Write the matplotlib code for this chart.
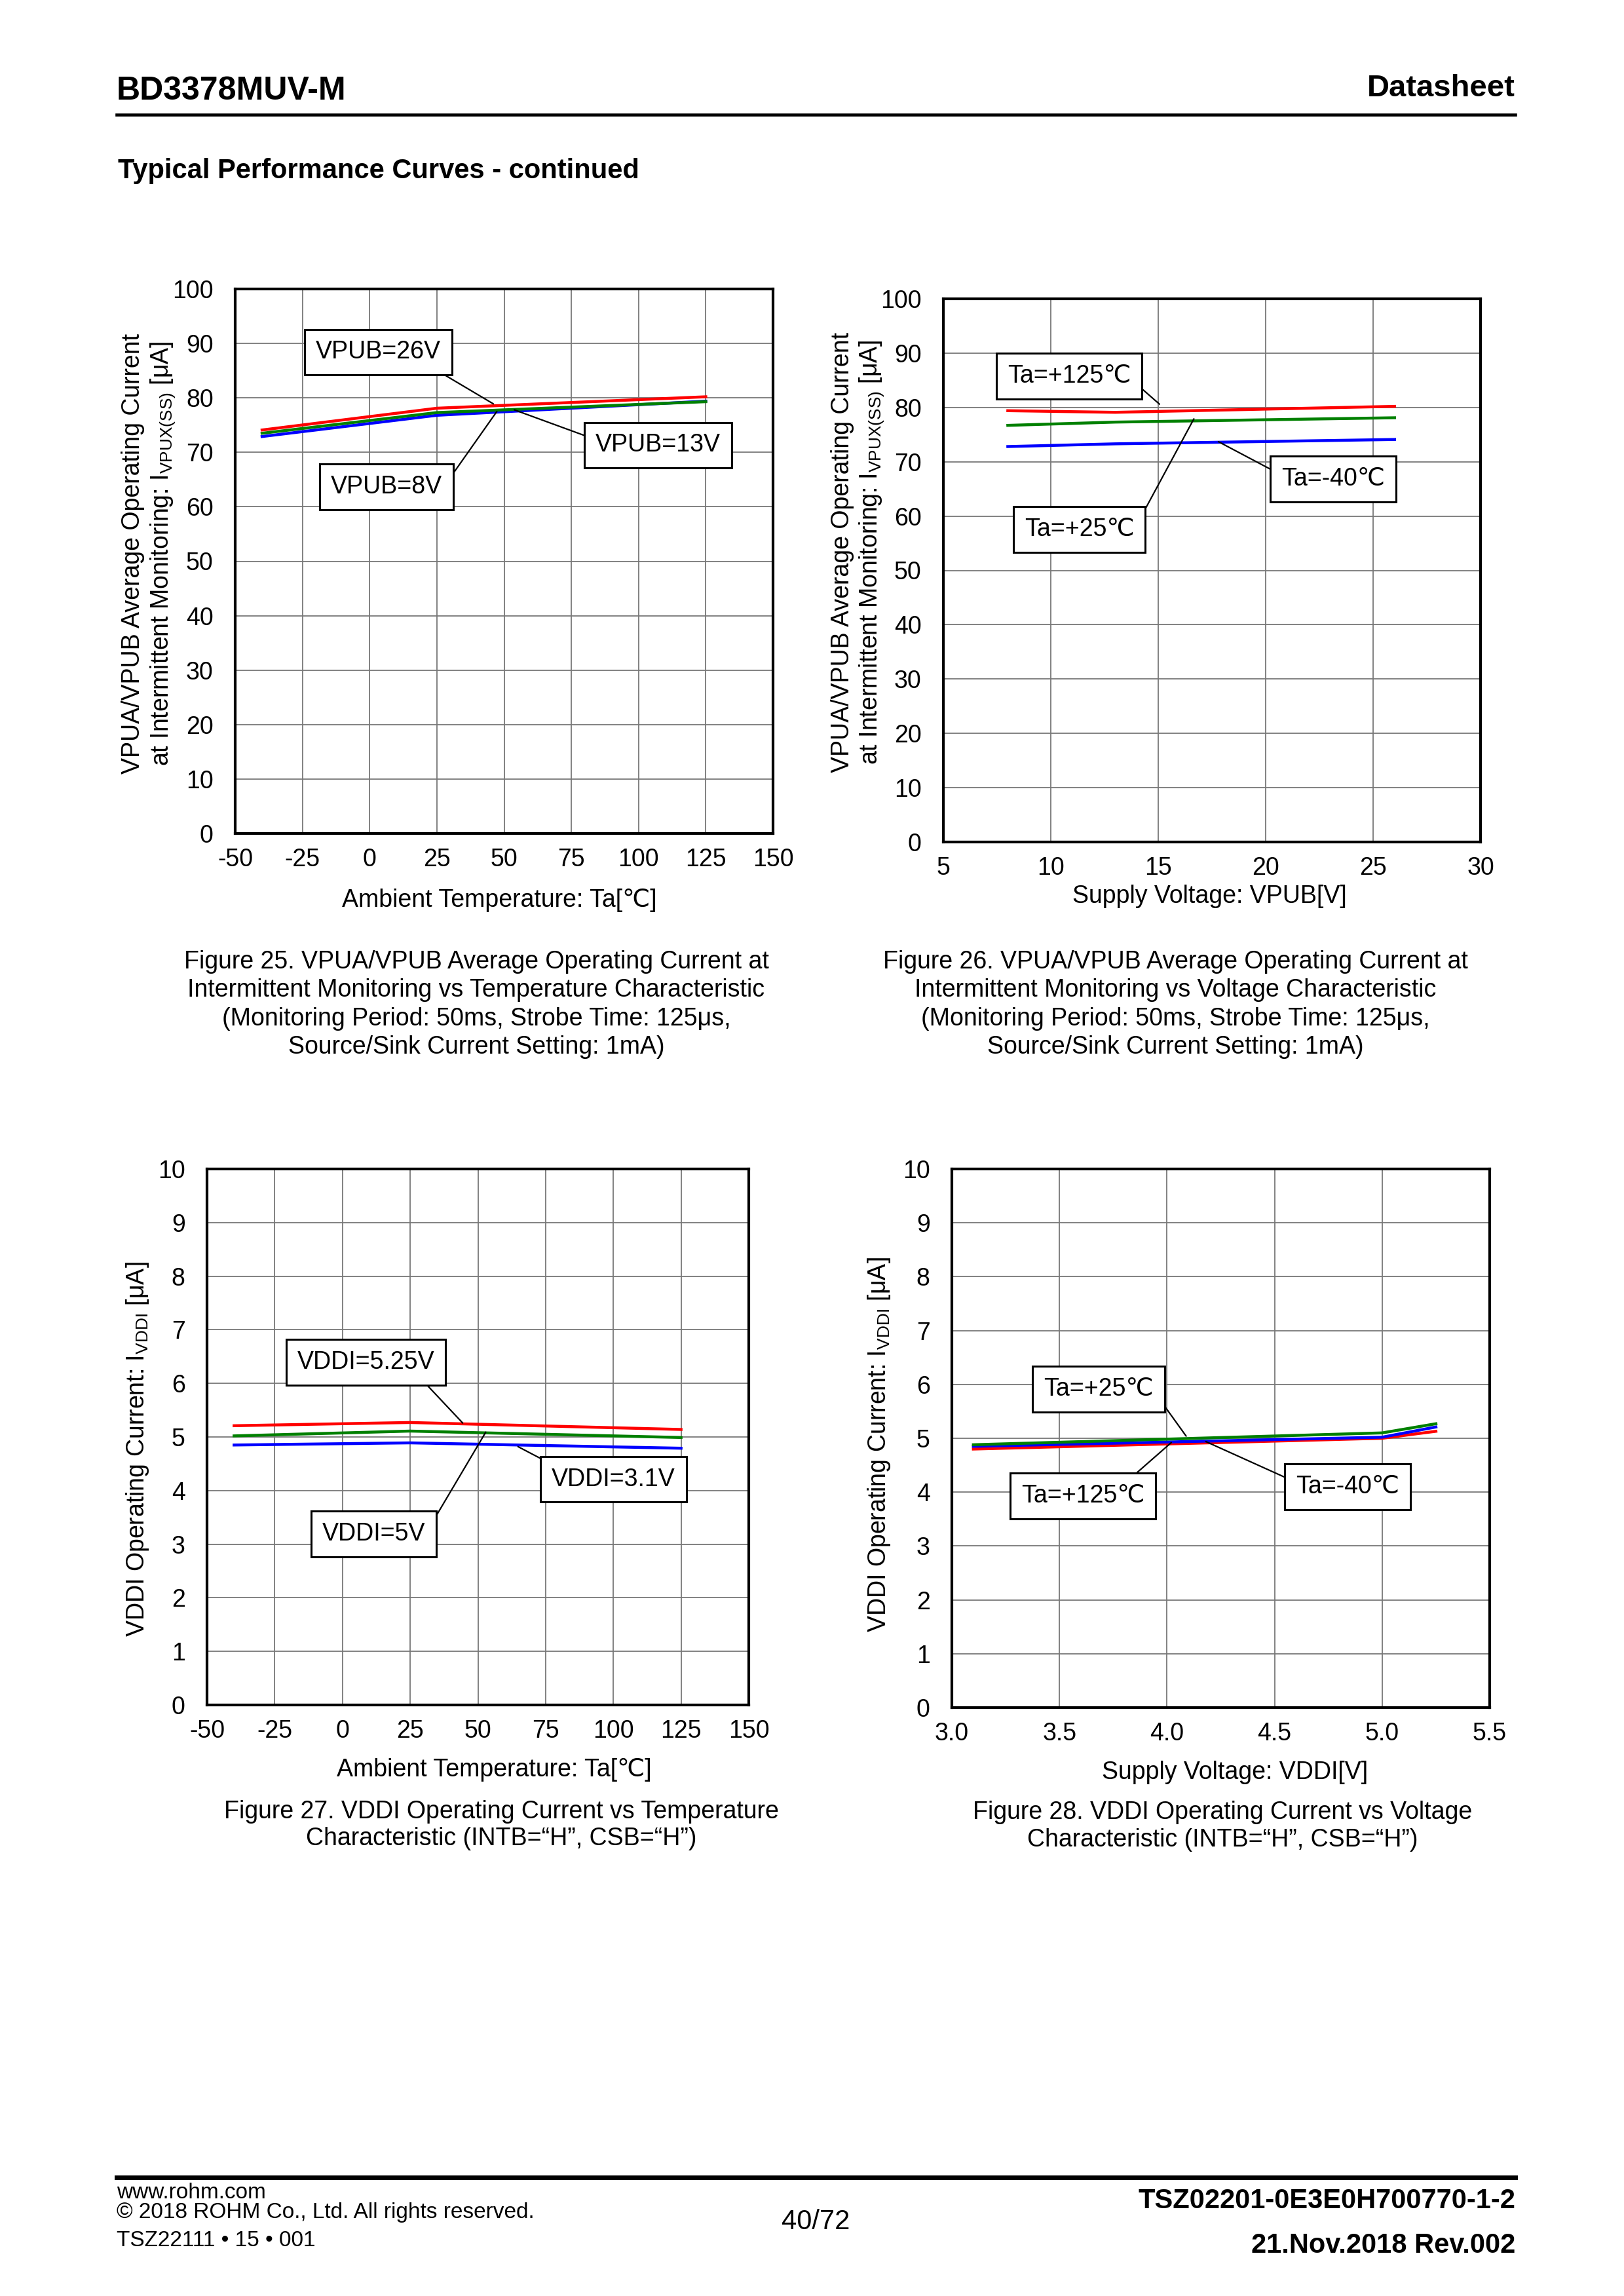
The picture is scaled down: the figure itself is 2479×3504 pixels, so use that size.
import matplotlib
matplotlib.use('Agg')
import matplotlib.pyplot as plt

plt.rcParams['font.family'] = ['Liberation Sans', 'DejaVu Sans']
plt.rcParams['mathtext.fontset'] = 'custom'
plt.rcParams['mathtext.rm'] = 'Liberation Sans'
plt.rcParams['mathtext.it'] = 'Liberation Sans:italic'
plt.rcParams['mathtext.bf'] = 'Liberation Sans:bold'
plt.rcParams['axes.unicode_minus'] = False

W, H = 2479, 3504
FS = 27

# Figure 25: current vs temperature, per VPUB
temp = [-40, 25, 125]
f25_8v = [72.9, 76.8, 79.4]
f25_13v = [73.5, 77.3, 79.3]
f25_26v = [74.1, 78.1, 80.2]

# Figure 26: current vs VPUB, per Ta
vpub = [8, 13, 26]
f26_m40 = [72.8, 73.3, 74.1]
f26_25 = [76.7, 77.3, 78.1]
f26_125 = [79.4, 79.1, 80.2]

# Figure 27: VDDI current vs temperature, per VDDI
f27_31v = [4.85, 4.89, 4.79]
f27_5v = [5.02, 5.11, 4.99]
f27_525v = [5.21, 5.27, 5.14]

# Figure 28: VDDI current vs VDDI, per Ta
vddi = [3.1, 5.0, 5.25]
f28_m40 = [4.85, 5.02, 5.21]
f28_25 = [4.88, 5.10, 5.27]
f28_125 = [4.80, 5.00, 5.13]

temp_ticks = [-50, -25, 0, 25, 50, 75, 100, 125, 150]
vpub_ticks = [5, 10, 15, 20, 25, 30]
vddi_ticks = [3.0, 3.5, 4.0, 4.5, 5.0, 5.5]
ua100_ticks = list(range(0, 101, 10))
ua10_ticks = list(range(0, 11, 1))

# annotations: label, box centre, line start (relative on text), line end
ann25 = [("VPUB=26V", (3.3, 88.4), (0.88, 0.0), (46, 78.9)),
         ("VPUB=13V", (107.3, 71.3), (0.0, 0.74), (53.8, 77.8)),
         ("VPUB=8V", (6.2, 63.7), (1.0, 0.39), (47.3, 77.5))]
ann26 = [("Ta=+125℃", (10.86, 85.75), (1.0, 0.37), (15.06, 80.6)),
         ("Ta=-40℃", (23.15, 66.85), (0.0, 0.66), (17.8, 73.7)),
         ("Ta=+25℃", (11.33, 57.55), (1.0, 0.5), (16.66, 77.9))]
ann27 = [("VDDI=5.25V", (8.6, 6.395), (0.87, 0.0), (44.4, 5.26)),
         ("VDDI=3.1V", (100.05, 4.21), (0.05, 1.0), (64.8, 4.82)),
         ("VDDI=5V", (11.6, 3.19), (1.0, 0.5), (52.9, 5.09))]
ann28 = [("Ta=+25℃", (3.6825, 5.915), (1.0, 0.42), (4.089, 5.04)),
         ("Ta=+125℃", (3.61, 3.93), (0.83, 1.0), (4.02, 4.92)),
         ("Ta=-40℃", (4.84, 4.10), (0.0, 0.69), (4.18, 4.94))]


def fx(px):
    return px / W


def fy(py):
    return 1 - py / H


def make_axes(fig, box, xticks, yticks, xfmt=None):
    x0, y0, x1, y1 = box
    ax = fig.add_axes([x0 / W, 1 - y1 / H, (x1 - x0) / W, (y1 - y0) / H])
    ax.set_xlim(xticks[0], xticks[-1])
    ax.set_ylim(yticks[0], yticks[-1])
    ax.set_xticks(xticks)
    ax.set_yticks(yticks)
    if xfmt:
        ax.set_xticklabels([xfmt % t for t in xticks])
    ax.grid(True, color='#777777', linewidth=1.3)
    ax.set_axisbelow(True)
    for s in ax.spines.values():
        s.set_linewidth(3)
        s.set_color('black')
    ax.tick_params(axis='both', length=0, labelsize=FS)
    ax.tick_params(axis='x', pad=16)
    ax.tick_params(axis='y', pad=24)
    return ax


def annotate(ax, items):
    for label, pos, rel, target in items:
        ax.annotate(label, xy=target, xytext=pos, ha='center', va='center',
                    fontsize=FS,
                    bbox=dict(boxstyle='square,pad=0.45', fc='white',
                              ec='black', lw=2.2),
                    arrowprops=dict(arrowstyle='-', color='black', lw=1.6,
                                    relpos=rel, shrinkA=0, shrinkB=0))


fig = plt.figure(figsize=(W / 100, H / 100), dpi=100)

# page header
fig.text(fx(178), fy(152), "BD3378MUV-M", fontsize=36, fontweight='bold',
         ha='left', va='baseline')
fig.text(fx(2313), fy(147), "Datasheet", fontsize=34, fontweight='bold',
         ha='right', va='baseline')
fig.add_artist(plt.Line2D([fx(178), fx(2313)], [fy(175), fy(175)],
                          color='black', linewidth=3.3))
fig.text(fx(180), fy(272), "Typical Performance Curves - continued",
         fontsize=30, fontweight='bold', ha='left', va='baseline')

# Figure 25
ax1 = make_axes(fig, (359, 441, 1180, 1272), temp_ticks, ua100_ticks)
ax1.plot(temp, f25_8v, color='#0000ff', lw=3.2)
ax1.plot(temp, f25_13v, color='#008000', lw=3.2)
ax1.plot(temp, f25_26v, color='#ff0000', lw=3.2)
annotate(ax1, ann25)
fig.text(fx(762), fy(1374), "Ambient Temperature: Ta[℃]", fontsize=FS,
         ha='center', va='center')
fig.text(fx(203), fy(845), "VPUA/VPUB Average Operating Current",
         fontsize=FS, rotation=90, ha='center', va='center')
fig.text(fx(249), fy(845),
         r"at Intermittent Monitoring: I$_{\mathrm{VPUX(SS)}}$ [μA]",
         fontsize=FS, rotation=90, ha='center', va='center')
cap25 = ["Figure 25. VPUA/VPUB Average Operating Current at",
         "Intermittent Monitoring vs Temperature Characteristic",
         "(Monitoring Period: 50ms, Strobe Time: 125μs,",
         "Source/Sink Current Setting: 1mA)"]
for i, line in enumerate(cap25):
    fig.text(fx(727), fy([1468, 1511, 1555, 1598][i]), line, fontsize=FS,
             ha='center', va='center')

# Figure 26
ax2 = make_axes(fig, (1440, 456, 2260, 1285), vpub_ticks, ua100_ticks)
ax2.plot(vpub, f26_m40, color='#0000ff', lw=3.2)
ax2.plot(vpub, f26_25, color='#008000', lw=3.2)
ax2.plot(vpub, f26_125, color='#ff0000', lw=3.2)
annotate(ax2, ann26)
fig.text(fx(1846), fy(1368), "Supply Voltage: VPUB[V]", fontsize=FS,
         ha='center', va='center')
fig.text(fx(1286), fy(843), "VPUA/VPUB Average Operating Current",
         fontsize=FS, rotation=90, ha='center', va='center')
fig.text(fx(1331), fy(843),
         r"at Intermittent Monitoring: I$_{\mathrm{VPUX(SS)}}$ [μA]",
         fontsize=FS, rotation=90, ha='center', va='center')
cap26 = ["Figure 26. VPUA/VPUB Average Operating Current at",
         "Intermittent Monitoring vs Voltage Characteristic",
         "(Monitoring Period: 50ms, Strobe Time: 125μs,",
         "Source/Sink Current Setting: 1mA)"]
for i, line in enumerate(cap26):
    fig.text(fx(1794), fy([1468, 1511, 1555, 1598][i]), line, fontsize=FS,
             ha='center', va='center')

# Figure 27
ax3 = make_axes(fig, (316, 1784, 1143, 2602), temp_ticks, ua10_ticks)
ax3.plot(temp, f27_31v, color='#0000ff', lw=3.2)
ax3.plot(temp, f27_5v, color='#008000', lw=3.2)
ax3.plot(temp, f27_525v, color='#ff0000', lw=3.2)
annotate(ax3, ann27)
fig.text(fx(754), fy(2701), "Ambient Temperature: Ta[℃]", fontsize=FS,
         ha='center', va='center')
fig.text(fx(210), fy(2212), r"VDDI Operating Current: I$_{\mathrm{VDDI}}$ [μA]",
         fontsize=FS, rotation=90, ha='center', va='center')
cap27 = ["Figure 27. VDDI Operating Current vs Temperature",
         "Characteristic (INTB=“H”, CSB=“H”)"]
for i, line in enumerate(cap27):
    fig.text(fx(765), fy([2765, 2806][i]), line, fontsize=FS,
             ha='center', va='center')

# Figure 28
ax4 = make_axes(fig, (1453, 1784, 2274, 2606), vddi_ticks, ua10_ticks, '%.1f')
ax4.plot(vddi, f28_125, color='#ff0000', lw=3.2)
ax4.plot(vddi, f28_m40, color='#0000ff', lw=3.2)
ax4.plot(vddi, f28_25, color='#008000', lw=3.2)
annotate(ax4, ann28)
fig.text(fx(1885), fy(2705), "Supply Voltage: VDDI[V]", fontsize=FS,
         ha='center', va='center')
fig.text(fx(1342), fy(2205), r"VDDI Operating Current: I$_{\mathrm{VDDI}}$ [μA]",
         fontsize=FS, rotation=90, ha='center', va='center')
cap28 = ["Figure 28. VDDI Operating Current vs Voltage",
         "Characteristic (INTB=“H”, CSB=“H”)"]
for i, line in enumerate(cap28):
    fig.text(fx(1866), fy([2766, 2808][i]), line, fontsize=FS,
             ha='center', va='center')

# page footer
fig.add_artist(plt.Line2D([fx(178), fx(2313)], [fy(3323), fy(3323)],
                          color='black', linewidth=5))
fig.text(fx(178), fy(3355), "www.rohm.com", fontsize=24, ha='left',
         va='baseline')
fig.text(fx(178), fy(3385), "© 2018 ROHM Co., Ltd. All rights reserved.",
         fontsize=24, ha='left', va='baseline')
fig.text(fx(178), fy(3428), "TSZ22111 • 15 • 001", fontsize=24, ha='left',
         va='baseline')
fig.text(fx(1245), fy(3402), "40/72", fontsize=30, ha='center',
         va='baseline')
fig.text(fx(2313), fy(3370), "TSZ02201-0E3E0H700770-1-2", fontsize=30,
         fontweight='bold', ha='right', va='baseline')
fig.text(fx(2313), fy(3438), "21.Nov.2018 Rev.002", fontsize=30,
         fontweight='bold', ha='right', va='baseline')

fig.savefig('out.png', dpi=100, facecolor='white')
